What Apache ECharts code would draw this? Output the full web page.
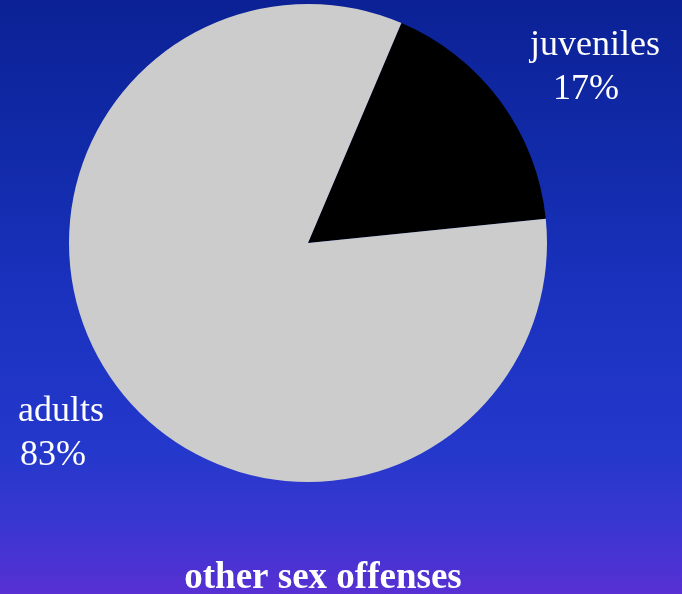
<!DOCTYPE html>
<html>
<head>
<meta charset="utf-8">
<script src="https://cdn.jsdelivr.net/npm/echarts@6/dist/echarts.min.js"></script>
<style>
  html, body { margin: 0; padding: 0; }
  #chart { width: 682px; height: 594px; }
</style>
</head>
<body>
<div id="chart"></div>
<script>
// Share of offenders by age group
const categories = ['juveniles', 'adults'];
const shares = [17, 83];
const sliceColors = ['#000000', '#cccccc'];
const chartTitle = 'other sex offenses';

const chart = echarts.init(document.getElementById('chart'), null, { renderer: 'canvas' });

const serif = '"Liberation Serif", "Times New Roman", serif';

// label block placement (top-left corner) and indent of the percentage line
const labelSpots = [
  { x: 530, y: 24, indent: 23 },
  { x: 18, y: 390, indent: 2 }
];

chart.setOption({
  backgroundColor: {
    type: 'linear', x: 0, y: 0, x2: 0, y2: 1,
    colorStops: [
      { offset: 0, color: '#0b2195' },
      { offset: 0.25, color: '#112aa8' },
      { offset: 0.5, color: '#1a32be' },
      { offset: 0.76, color: '#2438cc' },
      { offset: 0.88, color: '#3936d1' },
      { offset: 1, color: '#5830d3' }
    ]
  },
  title: {
    text: chartTitle,
    left: 318,
    textAlign: 'center',
    top: 555,
    textStyle: {
      color: '#ffffff',
      fontFamily: serif,
      fontWeight: 'bold',
      fontSize: 37
    }
  },
  series: [{
    type: 'pie',
    center: [308, 243],
    radius: [0, 239],
    startAngle: 67,
    clockwise: true,
    animation: false,
    silent: true,
    data: categories.map((name, i) => ({
      name,
      value: shares[i],
      itemStyle: { color: sliceColors[i] },
      label: {
        rich: {
          n: { fontFamily: serif, fontSize: 36, color: '#ffffff', lineHeight: 44 },
          p: { fontFamily: serif, fontSize: 36, color: '#ffffff', lineHeight: 44, padding: [0, 0, 0, labelSpots[i].indent] }
        }
      }
    })),
    label: {
      show: true,
      position: 'outside',
      formatter: '{n|{b}}\n{p|{d}%}',
      align: 'left',
      overflow: 'none',
      width: 200
    },
    labelLine: { show: false },
    labelLayout: function (params) {
      const s = labelSpots[params.dataIndex];
      return { x: s.x, y: s.y, align: 'left', verticalAlign: 'top', moveOverlap: null, hideOverlap: false };
    }
  }]
});
</script>
</body>
</html>
